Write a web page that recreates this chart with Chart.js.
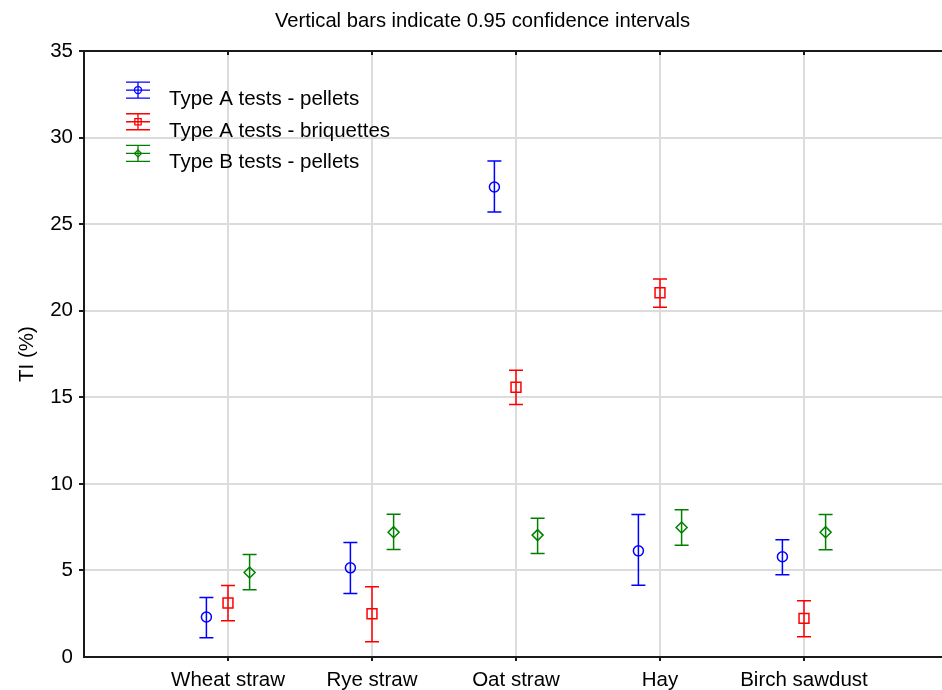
<!DOCTYPE html>
<html>
<head>
<meta charset="utf-8">
<script src="https://cdn.jsdelivr.net/npm/chart.js@4.4.0/dist/chart.umd.min.js"></script>
<style>
html, body { margin: 0; padding: 0; background: #fff; overflow: hidden; }
#wrap { width: 965px; height: 690px; }
canvas { display: block; }
</style>
</head>
<body>
<div id="wrap"><canvas id="myChart" width="965" height="690" style="width:965px;height:690px"></canvas></div>
<script>
const categories = ['Wheat straw', 'Rye straw', 'Oat straw', 'Hay', 'Birch sawdust'];
const seriesNames = ['Type A tests - pellets', 'Type A tests - briquettes', 'Type B tests - pellets'];

const pelletsA = [2.31, 5.15, 27.15, 6.13, 5.79];
const pelletsALow = [1.11, 3.67, 25.70, 4.15, 4.75];
const pelletsAHigh = [3.44, 6.61, 28.65, 8.23, 6.77];

const briquettesA = [3.12, 2.50, 15.58, 21.04, 2.23];
const briquettesALow = [2.09, 0.88, 14.58, 20.20, 1.17];
const briquettesAHigh = [4.13, 4.06, 16.56, 21.83, 3.25];

const pelletsB = [4.88, 7.21, 7.04, 7.48, 7.21];
const pelletsBLow = [3.88, 6.21, 5.98, 6.46, 6.19];
const pelletsBHigh = [5.92, 8.25, 8.02, 8.50, 8.23];

const yTicks = [0, 5, 10, 15, 20, 25, 30, 35];

const FONT = 'Liberation Sans, Arial, sans-serif';
const FSIZE = 20.5;
const AXIS = '#1a1a1a';

function points(values, offset) {
    return values.map((v, i) => ({ x: i + 1 + offset, y: v }));
}

// error bars under the markers
const errorBars = {
    id: 'errorBars',
    beforeDatasetsDraw(chart) {
        const ctx = chart.ctx;
        const xs = chart.scales.x, ys = chart.scales.y;
        chart.data.datasets.forEach(ds => {
            ctx.save();
            ctx.strokeStyle = ds.borderColor;
            ctx.lineWidth = 1.5;
            ds.data.forEach((p, i) => {
                const x = xs.getPixelForValue(p.x);
                const lo = ys.getPixelForValue(ds.low[i]);
                const hi = ys.getPixelForValue(ds.high[i]);
                ctx.beginPath();
                ctx.moveTo(x, lo); ctx.lineTo(x, hi);
                ctx.moveTo(x - 7, lo); ctx.lineTo(x + 7, lo);
                ctx.moveTo(x - 7, hi); ctx.lineTo(x + 7, hi);
                ctx.stroke();
            });
            ctx.restore();
        });
    }
};

// top frame line + legend inside the plot
const frameAndLegend = {
    id: 'frameAndLegend',
    afterDraw(chart) {
        const ctx = chart.ctx;
        const area = chart.chartArea;
        const xs = chart.scales.x;
        ctx.save();
        ctx.strokeStyle = AXIS;
        ctx.lineWidth = 2;
        ctx.beginPath();
        ctx.moveTo(area.left, area.top);
        ctx.lineTo(area.right, area.top);
        for (let i = 1; i <= categories.length; i++) {
            const x = xs.getPixelForValue(i);
            ctx.moveTo(x, area.top);
            ctx.lineTo(x, area.top + 4);
        }
        ctx.stroke();

        chart.data.datasets.forEach((ds, i) => {
            const cx = area.left + 54;
            const cy = area.top + 39 + i * 31.7;
            ctx.strokeStyle = ds.borderColor;
            ctx.fillStyle = 'rgba(0,0,0,0)';
            ctx.lineWidth = 1.3;
            ctx.beginPath();
            ctx.moveTo(cx - 12, cy - 8); ctx.lineTo(cx + 12, cy - 8);
            ctx.moveTo(cx - 12, cy); ctx.lineTo(cx + 12, cy);
            ctx.moveTo(cx - 12, cy + 8); ctx.lineTo(cx + 12, cy + 8);
            ctx.moveTo(cx, cy - 8); ctx.lineTo(cx, cy + 8);
            ctx.stroke();
            Chart.helpers.drawPoint(ctx, {
                pointStyle: ds.pointStyle,
                radius: ds.pointStyle === 'rect' ? 4.5 : 3.5,
                borderWidth: 1.3
            }, cx, cy);
            ctx.fillStyle = '#000';
            ctx.font = FSIZE + 'px ' + FONT;
            ctx.textBaseline = 'alphabetic';
            ctx.textAlign = 'left';
            ctx.fillText(ds.label, area.left + 85, cy + 15);
        });
        ctx.restore();
    }
};

const ctx = document.getElementById('myChart').getContext('2d');
new Chart(ctx, {
    type: 'scatter',
    data: {
        datasets: [{
            label: seriesNames[0],
            data: points(pelletsA, -0.15),
            low: pelletsALow, high: pelletsAHigh,
            borderColor: '#0000ff',
            backgroundColor: 'transparent',
            pointStyle: 'circle',
            pointRadius: 5,
            borderWidth: 1.5
        }, {
            label: seriesNames[1],
            data: points(briquettesA, 0),
            low: briquettesALow, high: briquettesAHigh,
            borderColor: '#ff0000',
            backgroundColor: 'transparent',
            pointStyle: 'rect',
            pointRadius: 7,
            borderWidth: 1.5
        }, {
            label: seriesNames[2],
            data: points(pelletsB, 0.15),
            low: pelletsBLow, high: pelletsBHigh,
            borderColor: '#008000',
            backgroundColor: 'transparent',
            pointStyle: 'rectRot',
            pointRadius: 5.5,
            borderWidth: 1.5
        }]
    },
    options: {
        responsive: false,
        animation: false,
        devicePixelRatio: 1,
        layout: { padding: 0 },
        plugins: {
            legend: { display: false },
            tooltip: { enabled: false },
            title: {
                display: true,
                text: 'Vertical bars indicate 0.95 confidence intervals',
                color: '#000',
                font: { family: FONT, size: 20.2, weight: 'normal' },
                padding: { top: 9, bottom: 17.8 }
            }
        },
        scales: {
            x: {
                type: 'linear',
                min: 0,
                max: 6,
                afterBuildTicks: scale => {
                    scale.ticks = [0, 1, 2, 3, 4, 5, 6].map(v => ({ value: v }));
                },
                afterFit: scale => {
                    scale.height = 33;
                    scale.paddingLeft = 0;
                    scale.paddingRight = 0;
                },
                ticks: {
                    color: '#000',
                    font: { family: FONT, size: FSIZE },
                    padding: 7,
                    maxRotation: 0,
                    autoSkip: false,
                    callback: v => categories[v - 1] || ''
                },
                grid: {
                    color: c => (c.tick && (c.tick.value === 0 || c.tick.value === 6)) ? 'transparent' : '#dcdcdc',
                    tickColor: c => (c.tick && (c.tick.value === 0 || c.tick.value === 6)) ? 'transparent' : AXIS,
                    lineWidth: 2,
                    tickLength: 4
                },
                border: { color: AXIS, width: 2 }
            },
            y: {
                min: 0,
                max: 35,
                afterBuildTicks: scale => {
                    scale.ticks = yTicks.map(v => ({ value: v }));
                },
                afterFit: scale => { scale.width = 84; },
                title: {
                    display: true,
                    text: 'TI (%)',
                    color: '#000',
                    font: { family: FONT, size: FSIZE },
                    padding: { top: 15, bottom: 0 }
                },
                ticks: {
                    color: '#000',
                    font: { family: FONT, size: FSIZE },
                    padding: 6
                },
                grid: {
                    color: '#dcdcdc',
                    tickColor: c => (c.tick && c.tick.value === 0) ? 'transparent' : AXIS,
                    lineWidth: 2,
                    tickLength: 5
                },
                border: { color: AXIS, width: 2 }
            },
            // empty right margin so the plot ends just past the window edge
            yRight: {
                type: 'linear',
                position: 'right',
                display: true,
                min: 0,
                max: 35,
                afterFit: scale => { scale.width = 17; },
                ticks: { display: false },
                grid: { display: false, drawTicks: false },
                border: { display: false }
            }
        }
    },
    plugins: [errorBars, frameAndLegend]
});
</script>
</body>
</html>
